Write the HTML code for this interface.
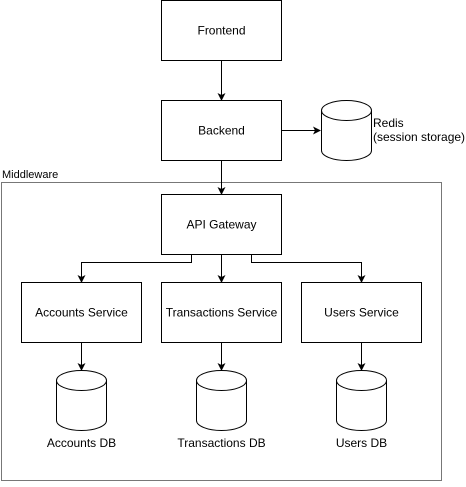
<!DOCTYPE html>
<html><head><style>body{margin:0;background:#fff}</style></head><body>
<svg width="466" height="482" xmlns="http://www.w3.org/2000/svg" font-family="Liberation Sans, sans-serif" font-size="12">
<defs><marker id="a" markerWidth="8" markerHeight="8" refX="7" refY="4" orient="auto" markerUnits="userSpaceOnUse"><path d="M0,0 L8,4 L0,8 L2,4 Z" fill="#000"/></marker></defs>
<rect x="1.5" y="182.5" width="440" height="298" fill="none" stroke="#777"/>
<text x="2" y="178" font-size="11">Middleware</text>
<g fill="#fff" stroke="#000" stroke-width="1">
<rect x="161.5" y="0.5" width="120" height="60"/>
<rect x="161.5" y="100.5" width="120" height="60"/>
<rect x="161.5" y="194.5" width="120" height="60"/>
<rect x="21.5" y="282.5" width="120" height="60"/>
<rect x="161.5" y="282.5" width="120" height="60"/>
<rect x="301.5" y="282.5" width="120" height="60"/>
</g>
<g fill="#fff" stroke="#000">
<path d="M321.5,110.5 v40 a25,10 0 0 0 50,0 v-40 a25,10 0 0 0 -50,0 a25,10 0 0 0 50,0"/>
<path d="M56.5,380.5 v40 a25,10 0 0 0 50,0 v-40 a25,10 0 0 0 -50,0 a25,10 0 0 0 50,0"/>
<path d="M196.5,380.5 v40 a25,10 0 0 0 50,0 v-40 a25,10 0 0 0 -50,0 a25,10 0 0 0 50,0"/>
<path d="M336.5,380.5 v40 a25,10 0 0 0 50,0 v-40 a25,10 0 0 0 -50,0 a25,10 0 0 0 50,0"/>
</g>
<g stroke="#000" fill="none" marker-end="url(#a)">
<path d="M221.5,60.5 V100"/>
<path d="M221.5,160.5 V194"/>
<path d="M281.5,130.5 H320"/>
<path d="M191.5,254.5 V262.5 H81.5 V282"/>
<path d="M221.5,254.5 V282"/>
<path d="M251.5,254.5 V262.5 H361.5 V282"/>
<path d="M81.5,342.5 V370"/>
<path d="M221.5,342.5 V370"/>
<path d="M361.5,342.5 V370"/>
</g>
<g text-anchor="middle">
<text x="221.5" y="34.5">Frontend</text>
<text x="221.5" y="134.5">Backend</text>
<text x="221.5" y="228.5">API Gateway</text>
<text x="81.5" y="316.5">Accounts Service</text>
<text x="221.5" y="316.5">Transactions Service</text>
<text x="361.5" y="316.5">Users Service</text>
<text x="81.5" y="447">Accounts DB</text>
<text x="221.5" y="447">Transactions DB</text>
<text x="361.5" y="447">Users DB</text>
</g>
<text x="373" y="127">Redis</text>
<text x="373" y="141">(session storage)</text>
</svg>
</body></html>
